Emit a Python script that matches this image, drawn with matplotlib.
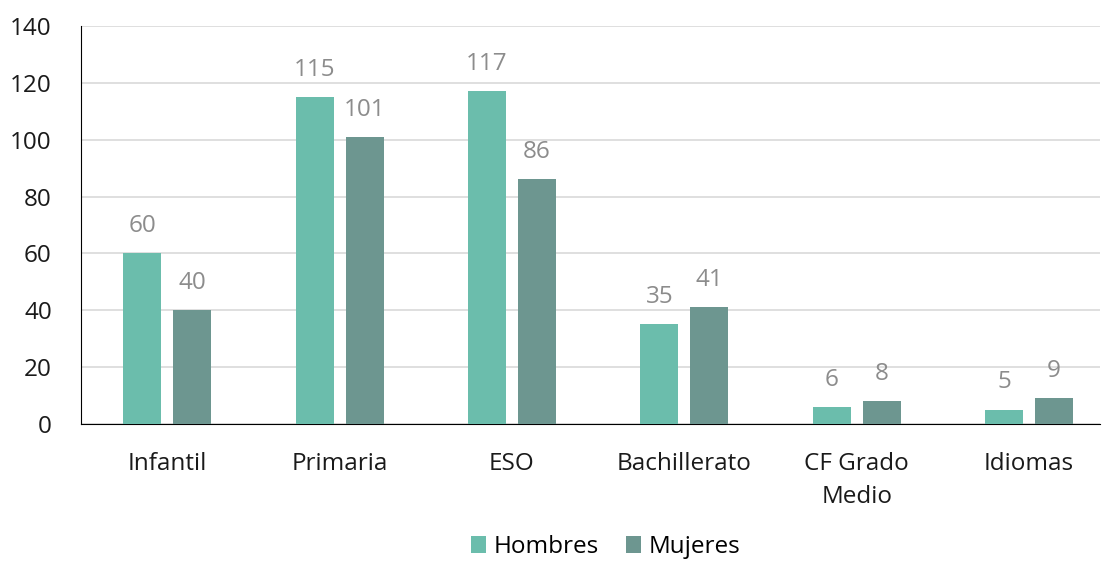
import numpy as np
import matplotlib.pyplot as plt

plt.rcParams['font.family'] = ['Open Sans', 'DejaVu Sans']

categorias = ['Infantil', 'Primaria', 'ESO', 'Bachillerato', 'CF Grado\nMedio', 'Idiomas']
hombres = [60, 115, 117, 35, 6, 5]
mujeres = [40, 101, 86, 41, 8, 9]

c_h = '#6BBDAC'
c_m = '#6D9690'

fig = plt.figure(figsize=(11.05, 5.65), dpi=100)
ax = fig.add_axes([0.0733, 0.2496, 0.922, 0.7044])

x = np.arange(len(categorias))
w = 0.22
off = 0.145
b1 = ax.bar(x - off, hombres, w, color=c_h, label='Hombres', zorder=3)
b2 = ax.bar(x + off, mujeres, w, color=c_m, label='Mujeres', zorder=3)

for bars in (b1, b2):
    for b in bars:
        ax.annotate('{:d}'.format(int(b.get_height())),
                    (b.get_x() + b.get_width() / 2, b.get_height()),
                    xytext=(0, 11), textcoords='offset points',
                    ha='center', va='bottom', fontsize=17.5, color='#8C8C8C')

ax.set_xlim(-0.5, 5.41)
ax.set_ylim(0, 140)
ax.set_yticks(range(0, 141, 20))
ax.set_xticks(x)
ax.set_xticklabels(categorias, linespacing=1.5)
ax.tick_params(axis='both', length=0, labelsize=17.5, colors='#1a1a1a')
ax.tick_params(axis='x', pad=20)
ax.tick_params(axis='y', pad=21)
ax.grid(axis='y', color='#D9D9D9', linewidth=1.2, zorder=0)
for s in ('top', 'right'):
    ax.spines[s].set_visible(False)
ax.spines['left'].set_color('black')
ax.spines['bottom'].set_color('black')

fig.legend(handles=[b1, b2], loc='lower center', bbox_to_anchor=(0.548, -0.028),
           ncol=2, frameon=False, fontsize=17.5, handlelength=0.65, handleheight=0.65,
           handletextpad=0.3, columnspacing=1.1)

fig.savefig('out.png', dpi=100)
